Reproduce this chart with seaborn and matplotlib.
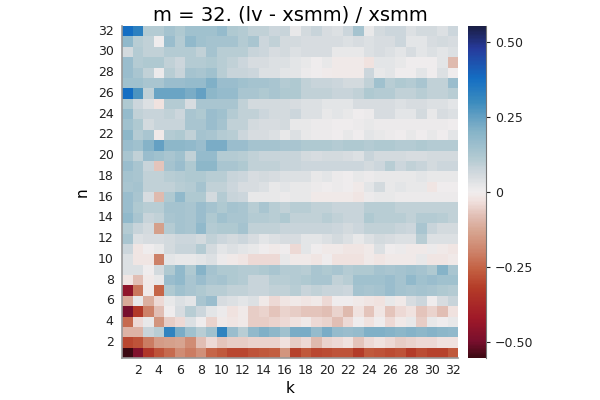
import numpy as np
import seaborn as sns
import matplotlib.pyplot as plt
from matplotlib.colors import LinearSegmentedColormap

# values, rows from n = 32 (top) down to n = 1
n_labels = list(range(32, 0, -1))
k_labels = list(range(1, 33))

r32 = [0.38, 0.33, 0.11, 0.11, 0.14, 0.12, 0.15, 0.15, 0.15, 0.17, 0.12, 0.11, 0.09, 0.09, 0.07, 0.08, 0.02, 0.06, 0.08, 0.05, 0.04, 0.07, 0.14, 0.02, 0.06, 0.07, 0.07, 0.04, 0.06, 0.06, 0.04, 0.07]
r31 = [0.18, 0.10, 0.09, 0.00, 0.16, 0.11, 0.18, 0.15, 0.14, 0.14, 0.14, 0.11, 0.13, 0.07, 0.09, 0.06, 0.06, 0.05, 0.05, 0.05, 0.05, 0.04, 0.05, 0.04, 0.05, 0.05, 0.07, 0.03, 0.03, 0.05, 0.06, 0.05]
r30 = [0.06, 0.11, 0.09, 0.09, 0.11, 0.11, 0.11, 0.09, 0.14, 0.10, 0.10, 0.10, 0.08, 0.07, 0.05, 0.06, 0.04, 0.05, 0.05, 0.05, 0.02, 0.02, 0.02, 0.04, 0.05, 0.04, 0.03, 0.05, 0.03, 0.04, 0.03, 0.04]
r29 = [0.16, 0.11, 0.12, 0.12, 0.09, 0.07, 0.11, 0.11, 0.12, 0.10, 0.09, 0.07, 0.05, 0.05, 0.04, 0.04, 0.03, 0.02, 0.00, 0.02, -0.01, -0.01, -0.01, -0.03, 0.03, 0.03, 0.02, 0.00, 0.00, 0.00, 0.03, -0.09]
r28 = [0.16, 0.13, 0.09, 0.01, 0.10, 0.08, 0.14, 0.13, 0.15, 0.10, 0.08, 0.08, 0.07, 0.04, 0.04, 0.03, 0.03, 0.01, 0.00, -0.005, -0.01, -0.01, -0.01, 0.07, 0.02, 0.03, 0.00, 0.00, 0.03, 0.00, 0.04, 0.00]
r27 = [0.15, 0.15, 0.13, 0.13, 0.16, 0.16, 0.17, 0.17, 0.21, 0.16, 0.16, 0.15, 0.14, 0.14, 0.13, 0.11, 0.12, 0.09, 0.08, 0.08, 0.07, 0.06, 0.06, 0.09, 0.15, 0.10, 0.12, 0.11, 0.13, 0.09, 0.09, 0.16]
r26 = [0.38, 0.28, 0.09, 0.24, 0.24, 0.24, 0.22, 0.25, 0.19, 0.17, 0.17, 0.13, 0.13, 0.12, 0.13, 0.12, 0.12, 0.09, 0.09, 0.09, 0.08, 0.08, 0.09, 0.12, 0.11, 0.11, 0.09, 0.09, 0.10, 0.09, 0.09, 0.10]
r25 = [0.12, 0.07, 0.04, -0.03, 0.11, 0.11, 0.05, 0.13, 0.13, 0.13, 0.13, 0.09, 0.06, 0.06, 0.06, 0.06, 0.05, 0.04, 0.04, 0.03, 0.03, 0.03, 0.05, 0.05, 0.05, 0.05, 0.04, 0.05, 0.05, 0.04, 0.04, 0.03]
r24 = [0.17, 0.09, 0.08, 0.08, 0.09, 0.07, 0.13, 0.12, 0.16, 0.15, 0.11, 0.09, 0.09, 0.07, 0.06, 0.06, 0.07, 0.04, 0.04, 0.02, 0.03, 0.02, 0.00, 0.01, 0.05, 0.05, 0.03, 0.03, 0.06, 0.02, 0.05, 0.04]
r23 = [0.15, 0.12, 0.06, 0.08, 0.08, 0.08, 0.13, 0.13, 0.16, 0.14, 0.09, 0.09, 0.06, 0.05, 0.05, 0.06, 0.02, 0.02, 0.01, 0.01, 0.00, 0.00, 0.01, 0.02, 0.01, 0.01, 0.01, 0.01, 0.01, 0.01, 0.01, 0.00]
r22 = [0.19, 0.11, 0.13, -0.01, 0.11, 0.12, 0.09, 0.14, 0.13, 0.11, 0.10, 0.07, 0.05, 0.05, 0.04, 0.02, 0.04, 0.02, 0.01, 0.01, 0.00, 0.02, 0.00, 0.03, 0.02, 0.01, 0.00, 0.02, 0.00, 0.02, 0.00, 0.03]
r21 = [0.16, 0.15, 0.20, 0.25, 0.19, 0.19, 0.18, 0.16, 0.22, 0.22, 0.16, 0.16, 0.14, 0.14, 0.14, 0.13, 0.13, 0.12, 0.12, 0.12, 0.11, 0.12, 0.12, 0.11, 0.12, 0.12, 0.11, 0.11, 0.12, 0.11, 0.11, 0.11]
r20 = [0.13, 0.09, 0.16, 0.15, 0.13, 0.15, 0.09, 0.17, 0.17, 0.11, 0.11, 0.10, 0.09, 0.08, 0.08, 0.08, 0.08, 0.06, 0.05, 0.06, 0.06, 0.05, 0.04, 0.08, 0.06, 0.06, 0.06, 0.05, 0.05, 0.06, 0.06, 0.06]
r19 = [0.16, 0.13, 0.08, -0.07, 0.14, 0.16, 0.12, 0.19, 0.19, 0.13, 0.13, 0.12, 0.09, 0.09, 0.09, 0.08, 0.08, 0.07, 0.07, 0.07, 0.07, 0.07, 0.07, 0.06, 0.07, 0.10, 0.07, 0.09, 0.08, 0.06, 0.07, 0.07]
r18 = [0.14, 0.13, 0.09, 0.09, 0.10, 0.11, 0.12, 0.12, 0.10, 0.10, 0.08, 0.07, 0.05, 0.06, 0.05, 0.04, 0.04, 0.04, 0.02, 0.03, 0.01, 0.00, 0.02, 0.01, 0.02, 0.02, 0.02, 0.02, 0.03, 0.02, 0.02, 0.02]
r17 = [0.13, 0.14, 0.09, 0.09, 0.09, 0.10, 0.11, 0.14, 0.09, 0.09, 0.07, 0.05, 0.05, 0.04, 0.02, 0.03, 0.02, 0.02, 0.01, 0.00, 0.01, 0.00, -0.01, 0.03, 0.06, 0.02, 0.03, 0.02, 0.02, -0.02, 0.00, 0.00]
r16 = [0.16, 0.13, 0.05, -0.09, 0.12, 0.18, 0.12, 0.12, 0.06, 0.11, 0.08, 0.07, 0.02, 0.02, 0.02, 0.01, 0.02, 0.02, -0.01, -0.01, -0.01, -0.01, -0.02, 0.01, 0.02, 0.02, 0.01, 0.01, 0.01, 0.01, 0.01, 0.01]
r15 = [0.16, 0.12, 0.10, 0.10, 0.14, 0.14, 0.13, 0.16, 0.14, 0.12, 0.14, 0.13, 0.10, 0.13, 0.10, 0.09, 0.10, 0.10, 0.09, 0.09, 0.08, 0.08, 0.08, 0.10, 0.10, 0.10, 0.09, 0.09, 0.09, 0.09, 0.09, 0.09]
r14 = [0.18, 0.13, 0.08, 0.09, 0.13, 0.14, 0.13, 0.16, 0.12, 0.15, 0.13, 0.13, 0.11, 0.11, 0.10, 0.12, 0.09, 0.09, 0.09, 0.10, 0.09, 0.08, 0.08, 0.12, 0.10, 0.10, 0.10, 0.09, 0.11, 0.11, 0.10, 0.09]
r13 = [0.11, 0.08, 0.06, -0.14, 0.11, 0.14, 0.13, 0.18, 0.11, 0.12, 0.12, 0.14, 0.09, 0.09, 0.09, 0.08, 0.08, 0.08, 0.08, 0.08, 0.07, 0.06, 0.07, 0.09, 0.09, 0.09, 0.08, 0.07, 0.13, 0.08, 0.06, 0.06]
r12 = [0.13, 0.04, 0.05, 0.05, 0.06, 0.07, 0.07, 0.06, 0.09, 0.07, 0.06, 0.07, 0.05, 0.03, 0.04, 0.05, 0.05, 0.03, 0.03, 0.04, 0.06, 0.04, 0.02, 0.04, 0.06, 0.05, 0.04, 0.04, 0.10, 0.04, 0.04, 0.04]
r11 = [0.07, -0.02, 0.00, 0.02, 0.06, 0.08, 0.08, 0.11, 0.06, 0.03, 0.04, 0.03, 0.02, 0.00, -0.01, 0.00, -0.04, 0.03, 0.00, -0.01, -0.01, -0.02, -0.02, -0.01, 0.04, 0.00, 0.01, -0.01, -0.01, 0.01, -0.01, -0.02]
r10 = [0.04, -0.02, -0.02, -0.20, 0.03, 0.02, 0.02, 0.03, 0.04, 0.01, -0.01, -0.02, -0.04, -0.04, -0.04, 0.02, -0.01, -0.01, -0.02, 0.00, -0.03, -0.03, -0.03, -0.01, -0.02, -0.01, -0.01, -0.01, 0.02, -0.02, -0.02, -0.01]
r9 = [0.04, 0.04, 0.00, 0.06, 0.12, 0.18, 0.12, 0.20, 0.14, 0.12, 0.12, 0.11, 0.11, 0.12, 0.13, 0.11, 0.11, 0.10, 0.13, 0.12, 0.13, 0.11, 0.12, 0.12, 0.14, 0.13, 0.14, 0.15, 0.14, 0.12, 0.20, 0.13]
r8 = [-0.02, -0.08, -0.01, 0.02, 0.16, 0.18, 0.13, 0.16, 0.13, 0.14, 0.12, 0.11, 0.08, 0.08, 0.10, 0.10, 0.11, 0.12, 0.13, 0.13, 0.09, 0.10, 0.15, 0.15, 0.15, 0.16, 0.14, 0.18, 0.15, 0.16, 0.15, 0.15]
r7 = [-0.45, -0.22, -0.01, -0.25, 0.12, 0.15, 0.13, 0.12, 0.10, 0.10, 0.09, 0.09, 0.08, 0.08, 0.09, 0.09, 0.10, 0.08, 0.09, 0.08, 0.08, 0.07, 0.14, 0.13, 0.14, 0.16, 0.14, 0.13, 0.14, 0.13, 0.12, 0.11]
r6 = [-0.12, 0.02, -0.11, -0.04, 0.02, 0.04, 0.03, 0.13, 0.16, 0.05, 0.04, 0.03, 0.04, -0.01, -0.04, -0.02, -0.01, -0.02, -0.01, -0.04, 0.00, 0.00, -0.01, -0.02, -0.03, 0.02, -0.01, 0.05, 0.07, 0.00, 0.05, 0.08]
r5 = [-0.50, -0.33, -0.20, -0.08, 0.00, 0.05, 0.10, 0.07, 0.03, 0.01, -0.03, -0.01, -0.06, -0.05, -0.07, -0.05, -0.06, -0.07, -0.07, -0.08, -0.05, -0.09, -0.03, -0.07, -0.02, -0.07, -0.04, -0.03, -0.07, -0.05, -0.08, -0.03]
r4 = [-0.24, -0.04, 0.02, -0.16, -0.06, -0.04, 0.04, 0.00, -0.05, -0.01, -0.02, -0.01, -0.06, -0.06, -0.05, -0.04, -0.03, -0.01, -0.04, -0.05, -0.08, -0.04, 0.00, -0.03, 0.00, -0.04, -0.01, 0.02, -0.06, 0.02, 0.00, 0.02]
r3 = [-0.10, -0.10, 0.08, 0.10, 0.32, 0.22, 0.15, 0.10, 0.15, 0.32, 0.16, 0.10, 0.18, 0.21, 0.19, 0.15, 0.22, 0.22, 0.17, 0.22, 0.17, 0.16, 0.17, 0.21, 0.21, 0.20, 0.19, 0.20, 0.19, 0.20, 0.19, 0.18]
r2 = [-0.30, -0.28, -0.21, -0.15, -0.14, -0.13, -0.18, -0.08, -0.04, -0.07, -0.06, -0.06, -0.05, -0.05, -0.05, -0.03, -0.06, -0.04, -0.09, -0.05, -0.04, -0.03, -0.07, -0.04, -0.03, -0.04, -0.06, -0.05, -0.04, -0.04, -0.03, -0.03]
r1 = [-0.55, -0.48, -0.34, -0.28, -0.24, -0.18, -0.21, -0.17, -0.25, -0.27, -0.30, -0.30, -0.28, -0.27, -0.26, -0.16, -0.31, -0.27, -0.30, -0.29, -0.28, -0.28, -0.32, -0.27, -0.28, -0.29, -0.28, -0.32, -0.29, -0.31, -0.31, -0.27]

rows = [r32, r31, r30, r29, r28, r27, r26, r25, r24, r23, r22, r21, r20, r19, r18, r17,
        r16, r15, r14, r13, r12, r11, r10, r9, r8, r7, r6, r5, r4, r3, r2, r1]
vals = np.array(rows)

vlim = 0.553

# colour stops of the diverging map (value, rgb), dark red -> white -> navy
stop_vals = [-0.553, -0.5, -0.42, -0.32, -0.26, -0.2, -0.13, -0.08, -0.03, 0.0, 0.02,
             0.05, 0.08, 0.1, 0.13, 0.16, 0.2, 0.25, 0.3, 0.38, 0.48, 0.553]
stop_rgb = [(60, 9, 18), (120, 15, 45), (160, 25, 40), (180, 60, 40), (195, 95, 65),
            (205, 130, 105), (215, 165, 145), (225, 190, 180), (240, 225, 222),
            (240, 237, 237), (232, 232, 233), (215, 220, 224), (200, 212, 218),
            (185, 205, 212), (170, 198, 208), (155, 190, 205), (135, 180, 200),
            (100, 160, 195), (60, 140, 190), (20, 110, 195), (38, 58, 155), (26, 30, 68)]
cmap = LinearSegmentedColormap.from_list(
    'bal', [((v + vlim) / (2 * vlim), tuple(c / 255 for c in rgb))
            for v, rgb in zip(stop_vals, stop_rgb)])

fig = plt.figure(figsize=(6, 4), dpi=100)
ax = fig.add_axes([122 / 600, 42 / 400, 336 / 600, 332 / 400])
cax = fig.add_axes([468 / 600, 42 / 400, 18 / 600, 332 / 400])

sns.heatmap(vals, ax=ax, cbar_ax=cax, cmap=cmap, vmin=-vlim, vmax=vlim)

ax.set_xticks([k - 0.5 for k in k_labels[1::2]])
ax.set_xticklabels([str(k) for k in k_labels[1::2]], rotation=0, fontsize=9)
ticks_n = [n for n in n_labels if n % 2 == 0]
ax.set_yticks([n_labels.index(n) + 0.5 for n in ticks_n])
ax.set_yticklabels([str(n) for n in ticks_n], rotation=0, fontsize=9)
ax.tick_params(axis='x', length=0, pad=4, colors='#222222')
ax.tick_params(axis='y', length=0, pad=6, colors='#222222')
for side in ['left', 'bottom']:
    ax.spines[side].set_visible(True)
    ax.spines[side].set_color('#999999')
    ax.spines[side].set_linewidth(1.2)
ax.set_xlabel('k', fontsize=11, labelpad=3)
ax.set_ylabel('n', fontsize=11, labelpad=6)
ax.set_title('m = 32. (lv - xsmm) / xsmm', fontsize=14, pad=4)

cax.set_yticks([-0.5, -0.25, 0, 0.25, 0.5])
cax.set_yticklabels(['\u22120.50', '\u22120.25', '0', '0.25', '0.50'], fontsize=9)
cax.tick_params(length=3, width=0.8, colors='#222222')
cax.spines['right'].set_visible(True)
cax.spines['right'].set_color('#777777')

fig.savefig('out.png', dpi=100)
